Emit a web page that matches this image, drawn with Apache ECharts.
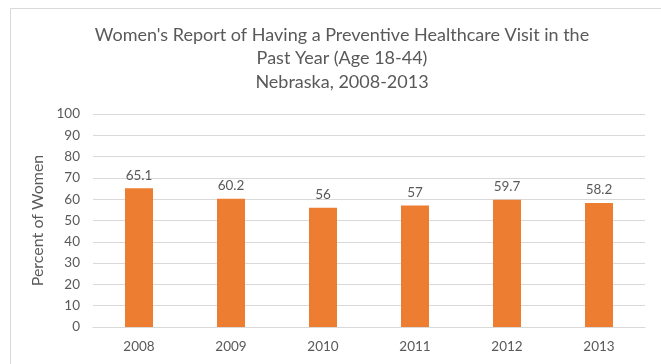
<!DOCTYPE html>
<html><head><meta charset="utf-8">
<script src="https://cdn.jsdelivr.net/npm/echarts@6/dist/echarts.min.js"></script>
<style>html,body{margin:0;padding:0;background:#fff}#c{width:661px;height:364px}</style>
</head><body><div id="c"></div>
<script>
var titleLines = ["Women's Report of Having a Preventive Healthcare Visit in the", "Past Year (Age 18-44)", "Nebraska, 2008-2013"];
var categories = ["2008", "2009", "2010", "2011", "2012", "2013"];
var values = [65.1, 60.2, 56, 57, 59.7, 58.2];
var yAxisName = "Percent of Women";
var FONT = "Lato, 'Open Sans', sans-serif";
var chart = echarts.init(document.getElementById('c'));
chart.setOption({
  animation: false,
  graphic: [{type:'rect', shape:{x:10.5,y:8.5,width:660,height:360}, style:{fill:'none', stroke:'#d9d9d9', lineWidth:1}}],
  title: {text: titleLines.join('\n'), left: 337, textAlign: 'center', top: 18,
    textStyle: {fontFamily: FONT, fontSize: 18, fontWeight: 'normal', color: '#595959', lineHeight: 23.5}},
  grid: {left: 93, right: 16, top: 114, bottom: 37},
  xAxis: {type: 'category', data: categories,
    axisLine: {lineStyle: {color: '#d9d9d9'}}, axisTick: {show: false},
    axisLabel: {color: '#595959', fontFamily: FONT, fontSize: 13.5, margin: 13}},
  yAxis: {type: 'value', min: 0, max: 100, interval: 10,
    name: yAxisName, nameLocation: 'middle', nameGap: 44,
    nameTextStyle: {color: '#595959', fontFamily: FONT, fontSize: 16},
    axisLine: {show: false}, axisTick: {show: false},
    axisLabel: {color: '#595959', fontFamily: FONT, fontSize: 13.5, margin: 13},
    splitLine: {lineStyle: {color: '#d9d9d9'}}},
  series: [{type: 'bar', data: values, barWidth: 28, itemStyle: {color: '#ED7D31'},
    label: {show: true, position: 'top', distance: 6, color: '#595959', fontFamily: FONT, fontSize: 13.5}}]
});
</script></body></html>
